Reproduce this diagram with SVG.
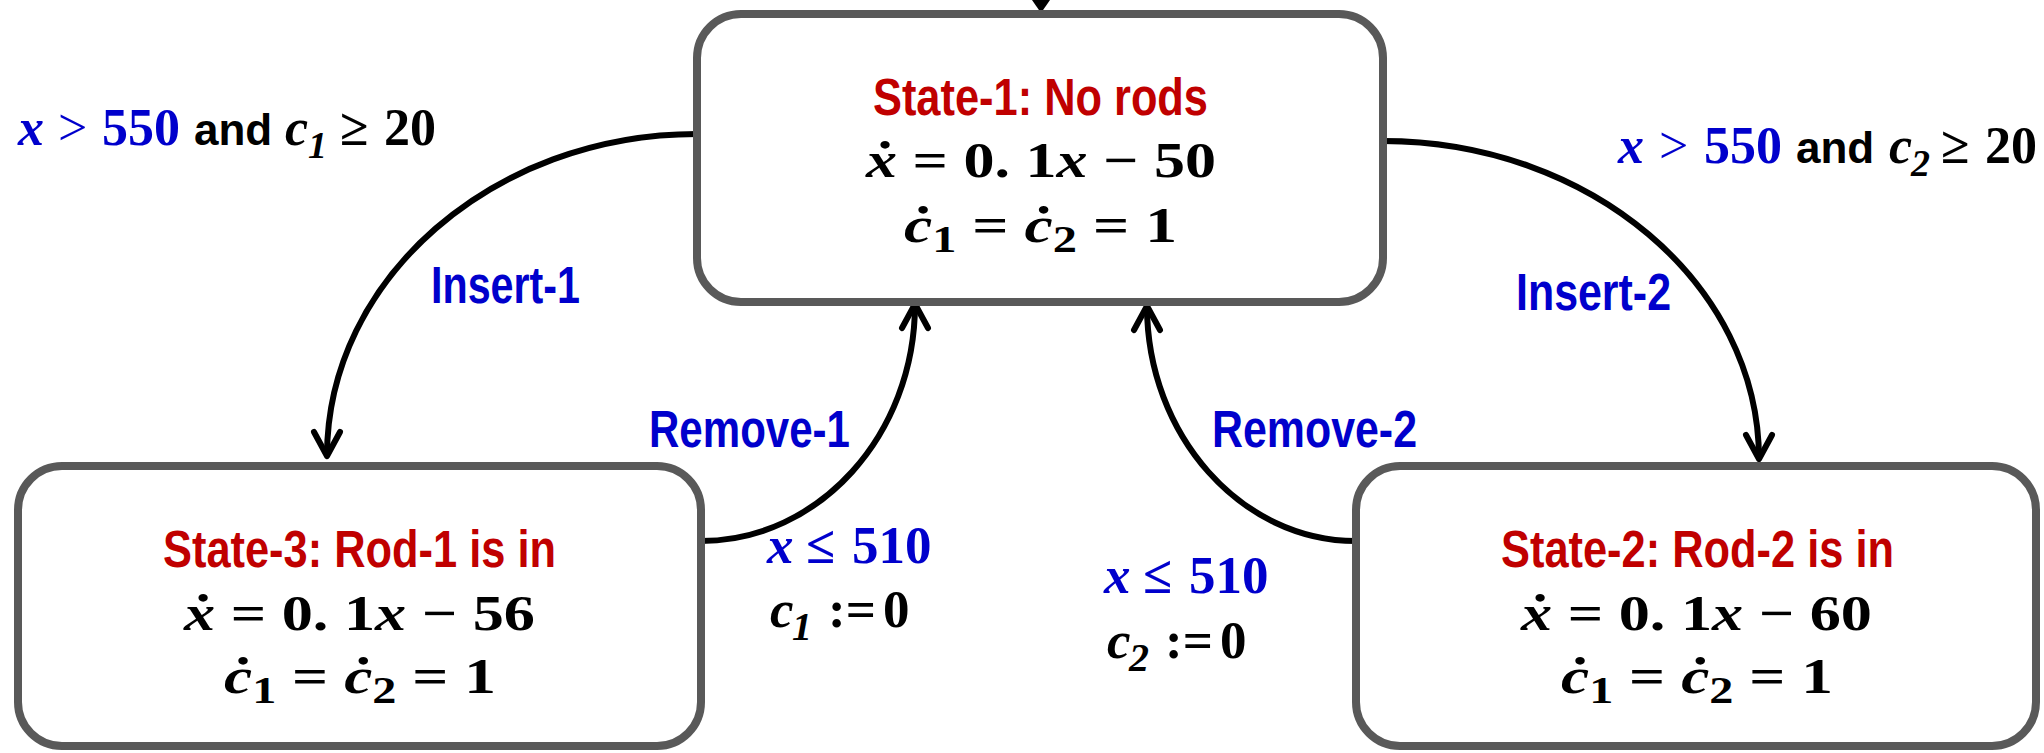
<svg xmlns="http://www.w3.org/2000/svg" width="2044" height="753" viewBox="0 0 2044 753">
  <style>
    .box { fill: #ffffff; stroke: #595959; stroke-width: 8; }
    .title { font-family: "Liberation Sans Narrow", "Arial Narrow", "Liberation Sans", sans-serif; font-weight: bold; font-size: 51px; fill: #c00000; }
    .lbl { font-family: "Liberation Sans Narrow", "Arial Narrow", "Liberation Sans", sans-serif; font-weight: bold; font-size: 51px; fill: #0000cc; }
    .math { font-family: "Liberation Serif", "DejaVu Serif", serif; font-weight: bold; font-size: 50px; fill: #000000; }
    .guard { font-family: "Liberation Serif", "DejaVu Serif", serif; font-weight: bold; font-size: 52px; fill: #000000; }
    .reset { font-family: "Liberation Serif", "DejaVu Serif", serif; font-weight: bold; font-size: 53px; fill: #000000; }
    .and { font-family: "Liberation Sans Narrow", "Arial Narrow", "Liberation Sans", sans-serif; font-weight: bold; font-size: 44px; }
    .it { font-style: italic; }
    .blue { fill: #0000cc; }
    .reg { font-weight: normal; }
    .edge { fill: none; stroke: #000000; stroke-width: 6; }
  </style>
  <defs>
    <marker id="open" markerUnits="userSpaceOnUse" markerWidth="40" markerHeight="40" refX="0" refY="0" viewBox="-30 -20 40 40" orient="auto" overflow="visible">
      <path d="M-24,-13 L0,0 L-24,13" fill="none" stroke="#000000" stroke-width="6" stroke-linecap="round" stroke-linejoin="round"/>
    </marker>
    <marker id="solid" markerUnits="userSpaceOnUse" markerWidth="20" markerHeight="20" refX="0" refY="0" viewBox="-2 -10 20 20" orient="auto" overflow="visible">
      <path d="M0,-9 L13,0 L0,9 Z" fill="#000000"/>
    </marker>
  </defs>

  <!-- transitions -->
  <g id="connectors">
    <path id="entry" class="edge" d="M1041,-12 L1041,0" marker-end="url(#solid)"/>
    <path id="insert-1" class="edge" d="M697,134 C493,134 327,279 327,456" marker-end="url(#open)"/>
    <path id="insert-2" class="edge" d="M1383,141 C1590,141 1759,284 1759,459" marker-end="url(#open)"/>
    <path id="remove-1" class="edge" d="M701,541 C819,541 915,435 915,304" marker-end="url(#open)"/>
    <path id="remove-2" class="edge" d="M1356,541 C1241,541 1147,435 1147,306" marker-end="url(#open)"/>
  </g>

  <!-- State-1 -->
  <g id="state-1">
    <rect class="box" x="697" y="14" width="686" height="288" rx="44" ry="44"/>
    <text class="title" x="873" y="115" textLength="335" lengthAdjust="spacingAndGlyphs">State-1: No rods</text>
    <text class="math" x="866" y="177" textLength="350" lengthAdjust="spacingAndGlyphs"><tspan class="it">ẋ</tspan> = 0. 1<tspan class="it">x</tspan> − 50</text>
    <text class="math" x="904" y="242" textLength="273" lengthAdjust="spacingAndGlyphs"><tspan class="it">ċ</tspan><tspan font-size="38" dy="10">1</tspan><tspan dy="-10"> = </tspan><tspan class="it">ċ</tspan><tspan font-size="38" dy="10">2</tspan><tspan dy="-10"> = 1</tspan></text>
  </g>

  <!-- State-3 -->
  <g id="state-3">
    <rect class="box" x="18" y="466" width="683" height="280" rx="44" ry="44"/>
    <text class="title" x="163" y="567" textLength="393" lengthAdjust="spacingAndGlyphs">State-3: Rod-1 is in</text>
    <text class="math" x="184" y="630" textLength="351" lengthAdjust="spacingAndGlyphs"><tspan class="it">ẋ</tspan> = 0. 1<tspan class="it">x</tspan> − 56</text>
    <text class="math" x="224" y="693" textLength="272" lengthAdjust="spacingAndGlyphs"><tspan class="it">ċ</tspan><tspan font-size="38" dy="10">1</tspan><tspan dy="-10"> = </tspan><tspan class="it">ċ</tspan><tspan font-size="38" dy="10">2</tspan><tspan dy="-10"> = 1</tspan></text>
  </g>

  <!-- State-2 -->
  <g id="state-2">
    <rect class="box" x="1356" y="466" width="680" height="280" rx="44" ry="44"/>
    <text class="title" x="1501" y="567" textLength="393" lengthAdjust="spacingAndGlyphs">State-2: Rod-2 is in</text>
    <text class="math" x="1521" y="630" textLength="351" lengthAdjust="spacingAndGlyphs"><tspan class="it">ẋ</tspan> = 0. 1<tspan class="it">x</tspan> − 60</text>
    <text class="math" x="1561" y="693" textLength="272" lengthAdjust="spacingAndGlyphs"><tspan class="it">ċ</tspan><tspan font-size="38" dy="10">1</tspan><tspan dy="-10"> = </tspan><tspan class="it">ċ</tspan><tspan font-size="38" dy="10">2</tspan><tspan dy="-10"> = 1</tspan></text>
  </g>

  <!-- transition labels -->
  <g id="labels">
    <text class="guard" y="145"><tspan class="it blue" x="18">x</tspan><tspan class="blue reg" x="58">&gt;</tspan><tspan class="blue" x="102">550</tspan><tspan class="and" x="194">and</tspan><tspan class="it" x="285">c</tspan><tspan class="it" x="308" y="158" font-size="38">1</tspan><tspan x="340" y="145">≥</tspan><tspan x="384">20</tspan></text>
    <text class="guard" y="163"><tspan class="it blue" x="1618">x</tspan><tspan class="blue reg" x="1659">&gt;</tspan><tspan class="blue" x="1704">550</tspan><tspan class="and" x="1796">and</tspan><tspan class="it" x="1889">c</tspan><tspan class="it" x="1911" y="176" font-size="38">2</tspan><tspan x="1941" y="163">≥</tspan><tspan x="1985">20</tspan></text>

    <text class="lbl" x="431" y="303" textLength="149" lengthAdjust="spacingAndGlyphs">Insert-1</text>
    <text class="lbl" x="1516" y="310" textLength="155" lengthAdjust="spacingAndGlyphs">Insert-2</text>
    <text class="lbl" x="649" y="447" textLength="201" lengthAdjust="spacingAndGlyphs">Remove-1</text>
    <text class="lbl" x="1212" y="447" textLength="205" lengthAdjust="spacingAndGlyphs">Remove-2</text>

    <text class="reset" y="563"><tspan class="it blue" x="767">x</tspan><tspan class="blue" x="806">≤</tspan><tspan class="blue" x="852">510</tspan></text>
    <text class="reset" y="627"><tspan class="it" x="770">c</tspan><tspan class="it" x="792" y="640" font-size="40">1</tspan><tspan x="828" y="627">:=</tspan><tspan x="883">0</tspan></text>
    <text class="reset" y="593"><tspan class="it blue" x="1104">x</tspan><tspan class="blue" x="1143">≤</tspan><tspan class="blue" x="1189">510</tspan></text>
    <text class="reset" y="658"><tspan class="it" x="1107">c</tspan><tspan class="it" x="1129" y="671" font-size="40">2</tspan><tspan x="1165" y="658">:=</tspan><tspan x="1220">0</tspan></text>
  </g>
</svg>
